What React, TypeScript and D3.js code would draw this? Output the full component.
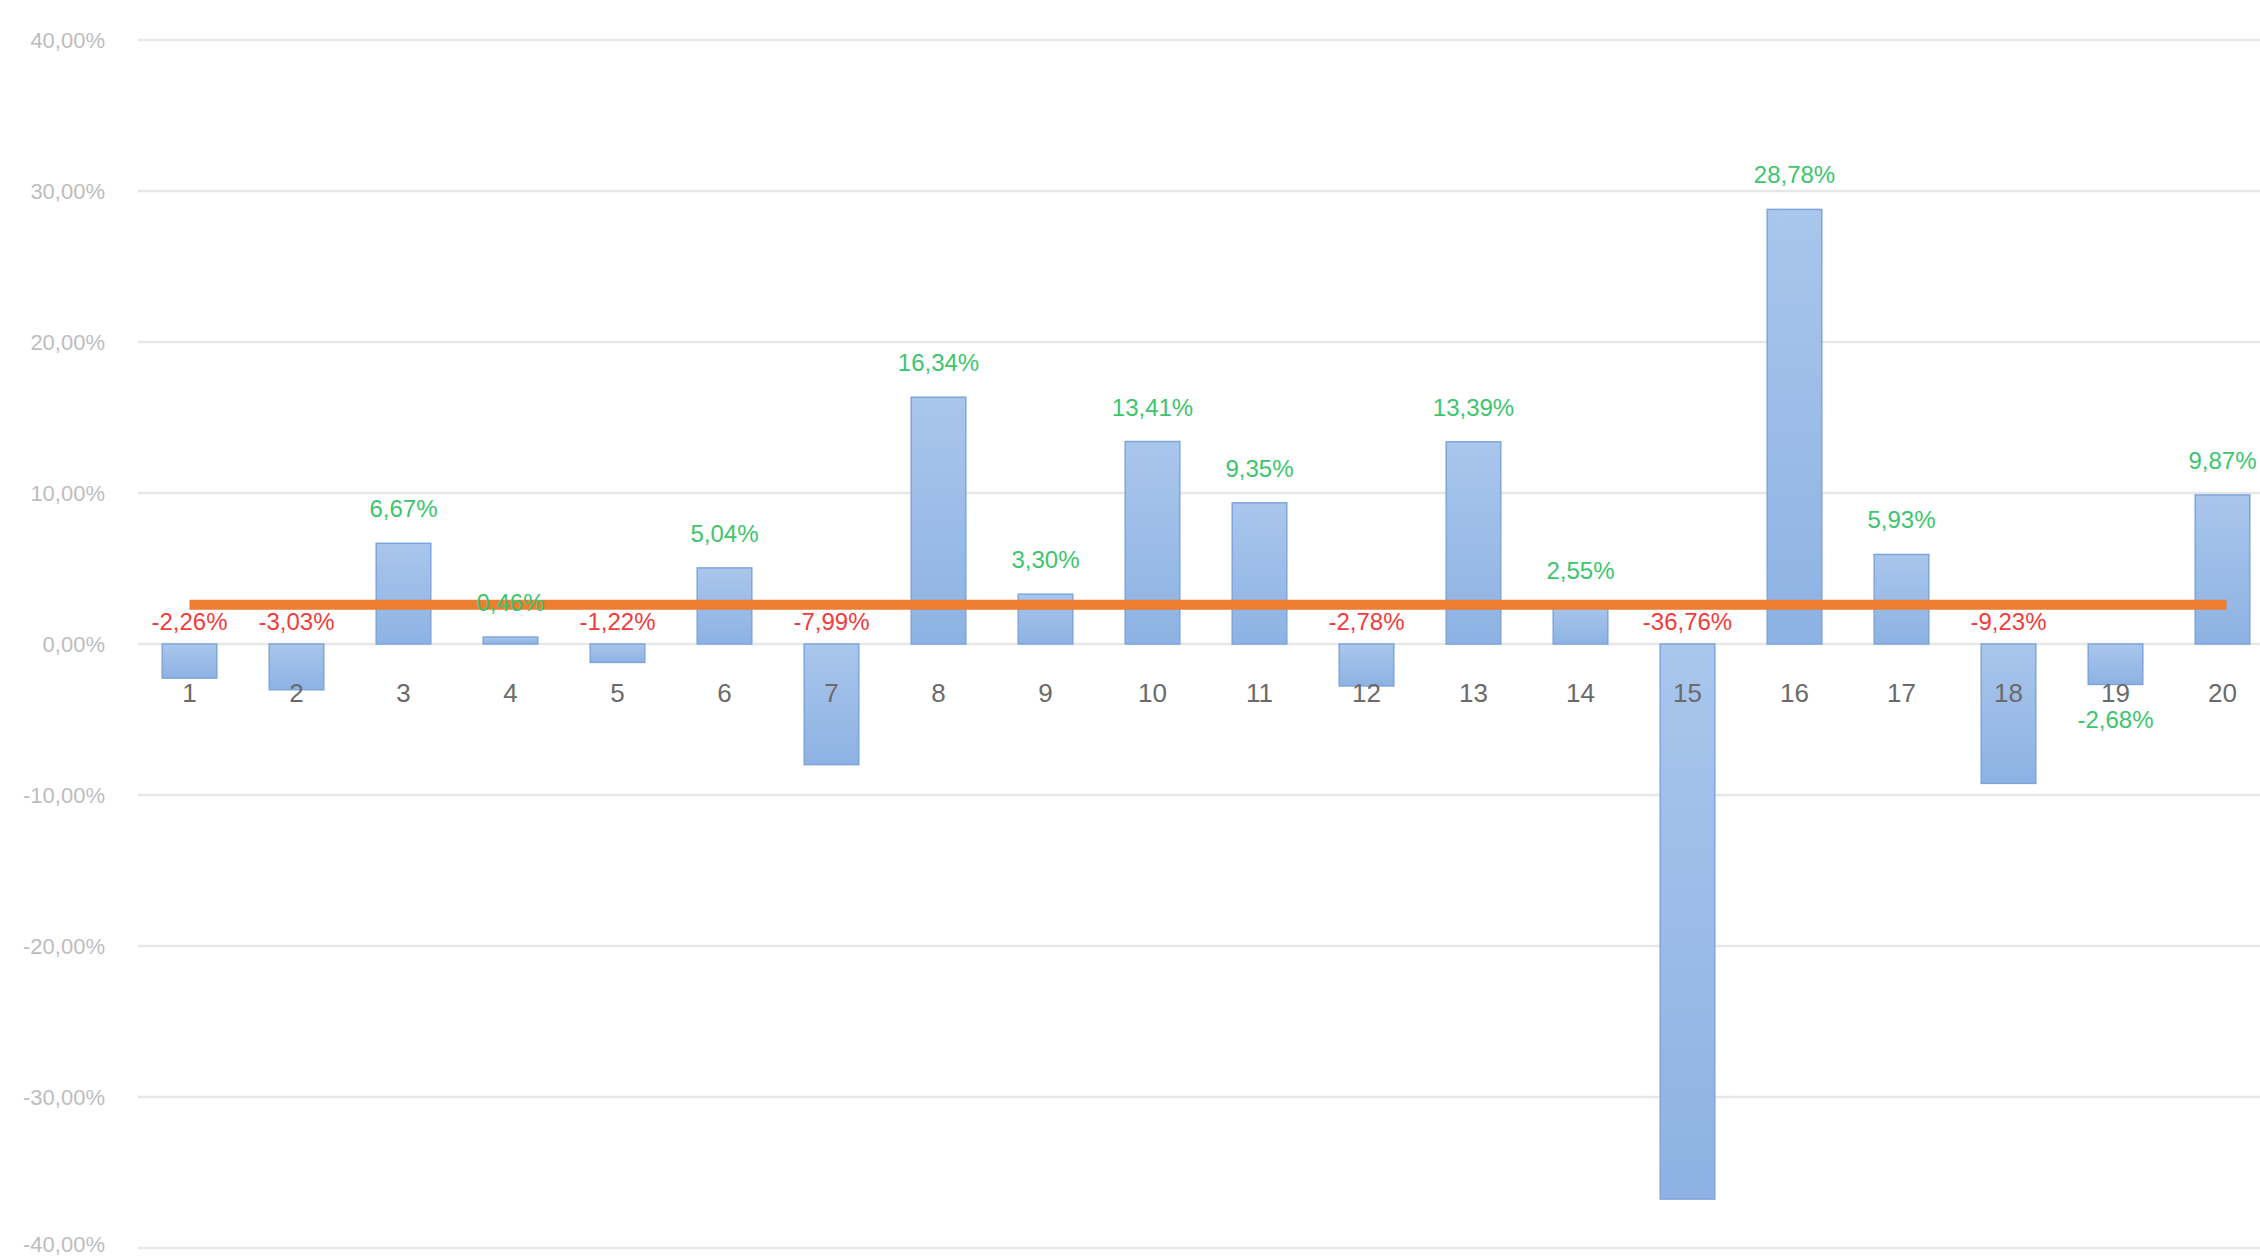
import React from "react";
import * as d3 from "d3";

// chart data
const categories = ["1", "2", "3", "4", "5", "6", "7", "8", "9", "10", "11", "12", "13", "14", "15", "16", "17", "18", "19", "20"];
const values = [-2.26, -3.03, 6.67, 0.46, -1.22, 5.04, -7.99, 16.34, 3.3, 13.41, 9.35, -2.78, 13.39, 2.55, -36.76, 28.78, 5.93, -9.23, -2.68, 9.87];
const average = 2.6; // the orange reference line
const yTicks = [40, 30, 20, 10, 0, -10, -20, -30, -40];

const W = 2260;
const H = 1258;

const locale = d3.formatLocale({ decimal: ",", thousands: ".", grouping: [3], currency: ["", ""], minus: "-" });
const pct = locale.format(".2f");

export default function App() {
    const x = d3
        .scaleBand<string>()
        .domain(categories)
        .range([136, 136 + 107 * categories.length])
        .paddingInner(0.49)
        .paddingOuter(0.245);
    const y = d3.scaleLinear().domain([-40, 40]).range([1248, 40]);
    const bw = x.bandwidth();
    const cx = (c: string) => (x(c) as number) + bw / 2;

    const green = "#3cc56e";
    const red = "#f23b3b";

    return (
        <div style={{ position: "absolute", left: 0, top: 0, width: W, height: H, overflow: "hidden", background: "#fff" }}>
            <svg width={W} height={H} style={{ display: "block" }}>
                <defs>
                    <linearGradient id="barFill" x1="0" y1="0" x2="0" y2="1">
                        <stop offset="0%" stopColor="#a9c6ec" />
                        <stop offset="100%" stopColor="#8db2e3" />
                    </linearGradient>
                </defs>
                <rect width={W} height={H} fill="#fff" />

                {/* gridlines + y tick labels */}
                {yTicks.map((t) => (
                    <g key={t}>
                        <line x1={138} x2={W} y1={y(t)} y2={y(t)} stroke="#e7e7e7" strokeWidth={2.5} />
                        <text
                            x={105}
                            y={Math.min(y(t) + 8, H - 6)}
                            textAnchor="end"
                            fontFamily="'Liberation Sans', Arial, sans-serif"
                            fontSize={22}
                            fill="#bdbdbd"
                        >
                            {pct(t) + "%"}
                        </text>
                    </g>
                ))}

                {/* bars */}
                {values.map((v, i) => {
                    const c = categories[i];
                    const y0 = y(Math.max(0, v));
                    const h = Math.abs(y(v) - y(0));
                    return (
                        <rect
                            key={c}
                            x={x(c)}
                            y={y0}
                            width={bw}
                            height={Math.max(h, 1)}
                            fill="url(#barFill)"
                            stroke="#7ea5da"
                            strokeWidth={1.5}
                        />
                    );
                })}

                {/* average line */}
                <line
                    x1={cx(categories[0])}
                    x2={cx(categories[categories.length - 1]) + 4}
                    y1={y(average)}
                    y2={y(average)}
                    stroke="#ed7d31"
                    strokeWidth={10}
                />

                {/* category labels */}
                {categories.map((c) => (
                    <text
                        key={c}
                        x={cx(c)}
                        y={y(0) + 58}
                        textAnchor="middle"
                        fontFamily="'Liberation Sans', Arial, sans-serif"
                        fontSize={26}
                        fill="#6a6a6a"
                    >
                        {c}
                    </text>
                ))}

                {/* value labels */}
                {values.map((v, i) => {
                    const c = categories[i];
                    let ly: number;
                    let fill: string;
                    if (i === 18) {
                        // this one sits under the axis labels, in green
                        ly = y(0) + 84;
                        fill = green;
                    } else if (v >= 0) {
                        ly = y(v) - 26;
                        fill = green;
                    } else {
                        ly = y(0) - 14;
                        fill = red;
                    }
                    return (
                        <text
                            key={c}
                            x={cx(c)}
                            y={ly}
                            textAnchor="middle"
                            fontFamily="'Liberation Sans', Arial, sans-serif"
                            fontSize={24}
                            fill={fill}
                        >
                            {pct(v) + "%"}
                        </text>
                    );
                })}
            </svg>
        </div>
    );
}
